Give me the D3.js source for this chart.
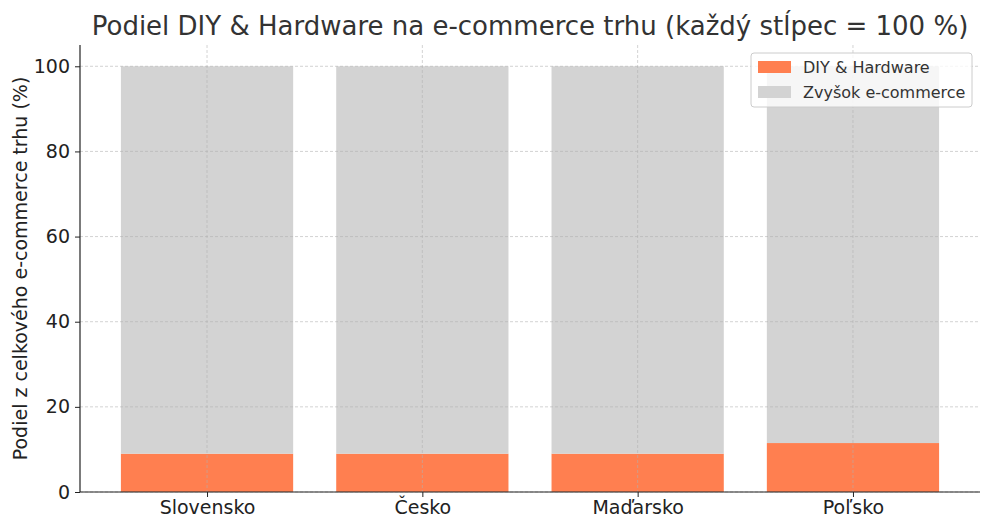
<!DOCTYPE html>
<html>
<head>
<meta charset="utf-8">
<script src="https://cdn.jsdelivr.net/npm/d3@7"></script>
<style>
  body { margin: 0; background: #fff; }
  svg { font-family: "DejaVu Sans", sans-serif; }
</style>
</head>
<body>
<svg id="chart" width="992" height="529"></svg>
<script>
// DATA
const countries = ["Slovensko", "Česko", "Maďarsko", "Poľsko"];
const diyShare = [9, 9, 9, 11.5];
const restShare = diyShare.map((v) => 100 - v);
const yTicks = [0, 20, 40, 60, 80, 100];
const seriesNames = ["DIY & Hardware", "Zvyšok e-commerce"];
const seriesColors = ["#ff7f50", "#d3d3d3"];

const svg = d3.select("#chart");
const margin = { left: 80, right: 12, top: 45, bottom: 37 };
const width = 992, height = 529;

// x scale as numeric index, like matplotlib (-0.59 .. 3.59)
const x = d3.scaleLinear()
  .domain([-0.59, countries.length - 1 + 0.59])
  .range([margin.left, width - margin.right]);
const y = d3.scaleLinear()
  .domain([0, 105])
  .range([height - margin.bottom, margin.top]);
const barW = x(0.4) - x(-0.4);

// BARS (stacked)
const g = svg.append("g");
g.selectAll(".diy")
  .data(countries)
  .enter()
  .append("rect")
  .attr("x", (d, i) => x(i) - barW / 2)
  .attr("width", barW)
  .attr("y", (d, i) => y(diyShare[i]))
  .attr("height", (d, i) => y(0) - y(diyShare[i]))
  .attr("fill", seriesColors[0]);

g.selectAll(".rest")
  .data(countries)
  .enter()
  .append("rect")
  .attr("x", (d, i) => x(i) - barW / 2)
  .attr("width", barW)
  .attr("y", (d, i) => y(diyShare[i] + restShare[i]))
  .attr("height", (d, i) => y(diyShare[i]) - y(diyShare[i] + restShare[i]))
  .attr("fill", seriesColors[1]);

// GRID (above bars)
const grid = svg.append("g")
  .attr("stroke", "#b0b0b0")
  .attr("stroke-opacity", 0.7)
  .attr("stroke-width", 0.8)
  .attr("stroke-dasharray", "3,2");
grid.selectAll(".hg")
  .data(yTicks)
  .enter()
  .append("line")
  .attr("x1", margin.left)
  .attr("x2", width - margin.right)
  .attr("y1", (d) => y(d))
  .attr("y2", (d) => y(d));
grid.selectAll(".vg")
  .data(countries)
  .enter()
  .append("line")
  .attr("x1", (d, i) => x(i))
  .attr("x2", (d, i) => x(i))
  .attr("y1", margin.top)
  .attr("y2", height - margin.bottom);

// AXES
const yAxis = svg.append("g")
  .attr("transform", `translate(${margin.left},0)`)
  .call(d3.axisLeft(y).tickValues(yTicks).tickSize(5).tickPadding(5));
const xAxis = svg.append("g")
  .attr("transform", `translate(0,${height - margin.bottom})`)
  .call(d3.axisBottom(x).tickValues(d3.range(countries.length))
    .tickFormat((i) => countries[i]).tickSize(5).tickPadding(4));

[xAxis, yAxis].forEach((a) => {
  a.selectAll("text")
    .attr("font-size", 19)
    .attr("fill", "#222")
    .attr("font-family", "DejaVu Sans, sans-serif");
  a.selectAll("line").attr("stroke", "#222");
  a.select(".domain").attr("stroke", "#222").attr("stroke-width", 1.2);
});
// drop outer ticks of domain path
yAxis.select(".domain").attr("d", `M0,${y(105)}V${y(0)}`);
xAxis.select(".domain").attr("d", `M${x.range()[0]},0H${x.range()[1]}`);

// TITLE
svg.append("text")
  .attr("x", 530)
  .attr("y", 35)
  .attr("text-anchor", "middle")
  .attr("font-size", 26)
  .attr("fill", "#333")
  .text("Podiel DIY & Hardware na e-commerce trhu (každý stĺpec = 100 %)");

// Y LABEL
svg.append("text")
  .attr("transform", `translate(27,${(margin.top + height - margin.bottom) / 2}) rotate(-90)`)
  .attr("text-anchor", "middle")
  .attr("font-size", 19)
  .attr("fill", "#222")
  .text("Podiel z celkového e-commerce trhu (%)");

// LEGEND
const legend = svg.append("g").attr("transform", "translate(751,53)");
legend.append("rect")
  .attr("width", 221)
  .attr("height", 54)
  .attr("rx", 3)
  .attr("fill", "#fff")
  .attr("fill-opacity", 0.8)
  .attr("stroke", "#ccc");
seriesNames.forEach((name, i) => {
  legend.append("rect")
    .attr("x", 7)
    .attr("y", 8 + i * 25)
    .attr("width", 33)
    .attr("height", 12)
    .attr("fill", seriesColors[i]);
  legend.append("text")
    .attr("x", 52)
    .attr("y", 20 + i * 25)
    .attr("font-size", 16)
    .attr("fill", "#333")
    .text(name);
});
</script>
</body>
</html>
